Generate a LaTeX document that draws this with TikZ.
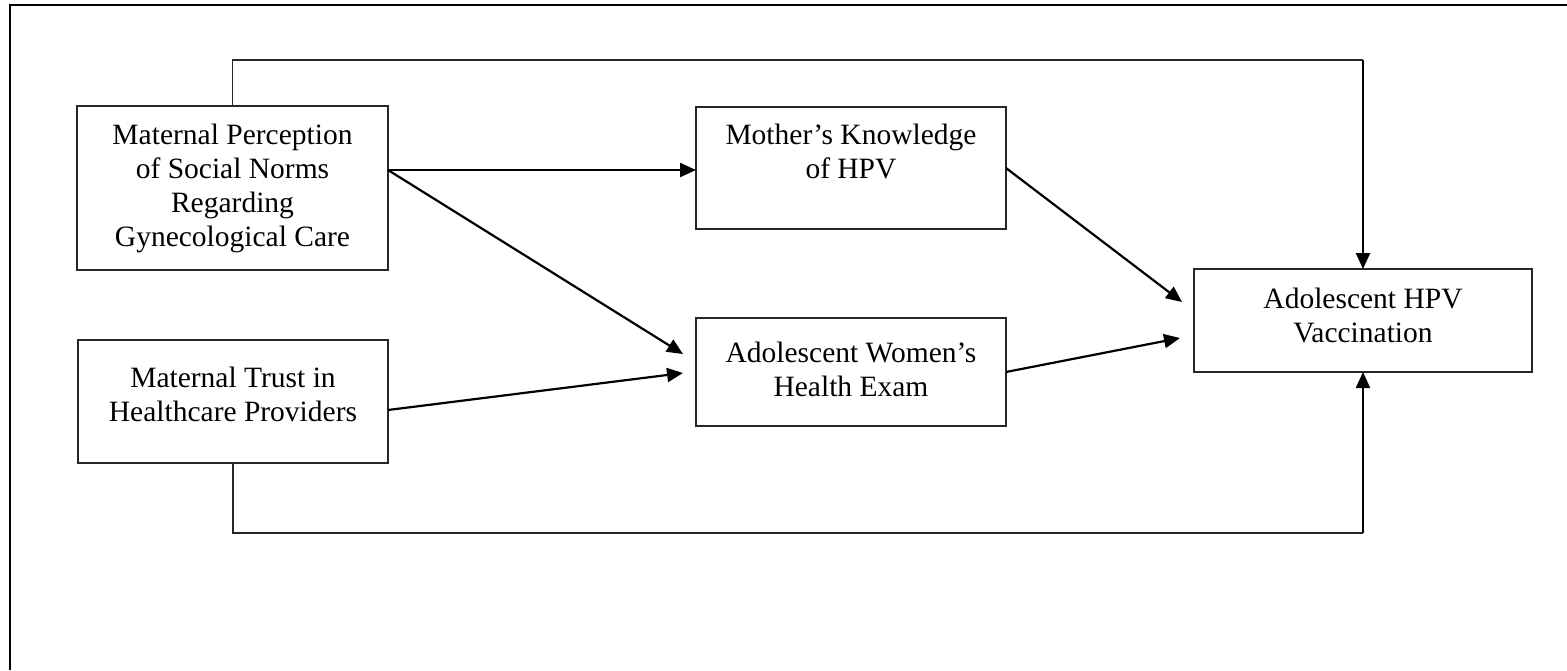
\documentclass[tikz,border=0pt]{standalone}
\usepackage{fontspec}
\setmainfont{Liberation Serif}
\usetikzlibrary{arrows.meta,calc}
\begin{document}
\begin{tikzpicture}[x=1pt,y=-1pt,
  box/.style={draw=black!85,line width=1.1pt,minimum width=#1,inner sep=0pt,outer sep=0pt},
  lbl/.style={align=center,font=\fontsize{29.5}{34}\selectfont,inner sep=0pt},
  arr/.style={line width=2.2pt,-{Triangle[length=16pt,width=14pt]}},
  link/.style={line width=1.2pt,draw=black!85}]
\useasboundingbox (0,0) rectangle (1567,670);
\draw[line width=2pt] (10,670) -- (10,5) coordinate (fc) -- (1567,5);
% boxes
\node[box=311pt,minimum height=164pt] (b1) at (232.5,188) {};
\node[box=310pt,minimum height=122pt] (b2) at (851,168) {};
\node[box=310pt,minimum height=123pt] (b3) at (233,401.5) {};
\node[box=310pt,minimum height=108pt] (b4) at (851,372) {};
\node[box=338pt,minimum height=103pt] (b5) at (1363,320.5) {};
% texts
\node[lbl] (t1) at (232.5,188) {Maternal Perception\\of Social Norms\\Regarding\\Gynecological Care};
\node[lbl] (t2) at (851,151) {Mother’s Knowledge\\of HPV};
\node[lbl] (t3) at (233,394) {Maternal Trust in\\Healthcare Providers};
\node[lbl] (t4) at (851,369) {Adolescent Women’s\\Health Exam};
\node[lbl] (t5) at (1363,315) {Adolescent HPV\\Vaccination};
% arrows
\draw[arr] ($(b1.north east)+(0,64)$) -- (b2.west |- {$(b1.north east)+(0,64)$});
\draw[arr] ($(b1.north east)+(0,64)$) -- ($(b4.north west)+(-13,36)$);
\draw[arr] ($(b3.north east)+(0,70)$) -- ($(b4.north west)+(-13,55)$);
\draw[arr] ($(b2.north east)+(0,61)$) -- ($(b5.north west)+(-12,33)$);
\draw[arr] (b4.east) -- ($(b5.north west)+(-14,69)$);
% long links
\draw[link] (b1.north) -- ++(0,-46) -- ($(b5.north)+(0,-209)$);
\draw[arr] ($(b5.north)+(0,-209)$) -- (b5.north);
\draw[link] (b3.south) -- ++(0,70) -- ($(b5.south)+(0,161)$);
\draw[arr] ($(b5.south)+(0,161)$) -- (b5.south);
\end{tikzpicture}
\end{document}
